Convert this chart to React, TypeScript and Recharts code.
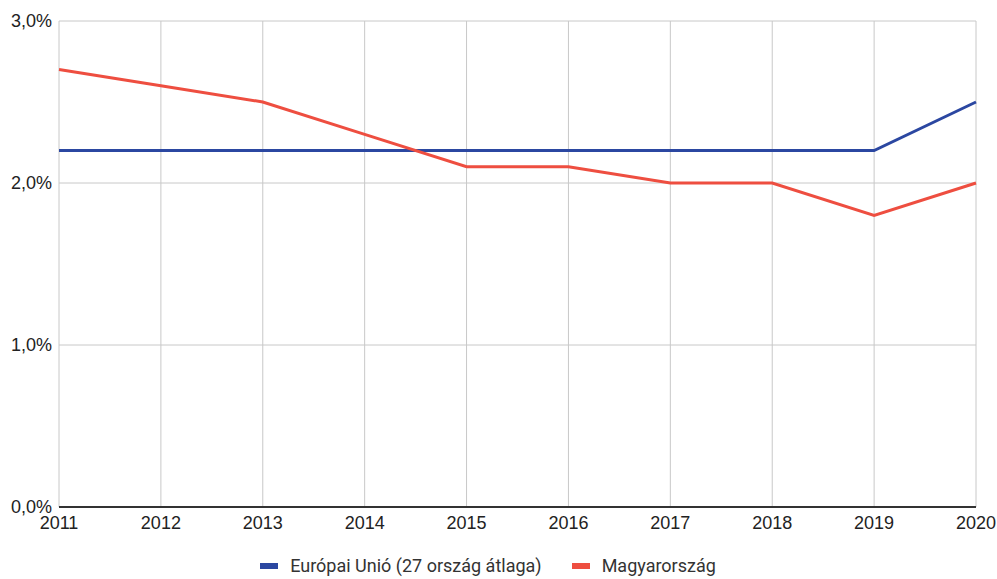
import React from "react";
import { LineChart, XAxis, YAxis, CartesianGrid, Line, Legend } from "recharts";

const years = ["2011", "2012", "2013", "2014", "2015", "2016", "2017", "2018", "2019", "2020"];
const euValues = [2.2, 2.2, 2.2, 2.2, 2.2, 2.2, 2.2, 2.2, 2.2, 2.5];
const huValues = [2.7, 2.6, 2.5, 2.3, 2.1, 2.1, 2.0, 2.0, 1.8, 2.0];
const yTicks = [0, 1, 2, 3];

const EU_NAME = "Európai Unió (27 ország átlaga)";
const HU_NAME = "Magyarország";
const EU_COLOR = "#2b47a1";
const HU_COLOR = "#ee4e40";

const data = years.map((y, i) => ({ year: y, eu: euValues[i], hu: huValues[i] }));

const fmt = (v: number) => v.toFixed(1).replace(".", ",") + "%";

function LegendBox() {
    const items = [
        { name: EU_NAME, color: EU_COLOR },
        { name: HU_NAME, color: HU_COLOR },
    ];
    return (
        <div style={{ display: "flex", justifyContent: "center", gap: 30, fontFamily: "Roboto", fontSize: 18, color: "#333", lineHeight: "20px", paddingTop: 3 }}>
            {items.map((it) => (
                <div key={it.name} style={{ display: "flex", alignItems: "center" }}>
                    <span style={{ display: "inline-block", width: 18, height: 6, background: it.color, marginRight: 12 }} />
                    <span>{it.name}</span>
                </div>
            ))}
        </div>
    );
}

function App() {
    return (
        <div style={{ position: "absolute", left: 0, top: 0 }}>
            <LineChart width={997} height={579} data={data} margin={{ top: 21, right: 21, left: 0, bottom: 2 }}>
                <CartesianGrid stroke="#c8c8c8" vertical={true} horizontal={true} />
                <XAxis
                    dataKey="year"
                    padding={{ left: 0, right: 0 }}
                    tickLine={false}
                    tickSize={0}
                    tickMargin={9}
                    axisLine={{ stroke: "#333", strokeWidth: 2 }}
                    tick={{ fill: "#222", fontFamily: "Liberation Sans", fontSize: 18 }}
                    height={46}
                    interval={0}
                />
                <YAxis
                    domain={[0, 3]}
                    ticks={yTicks}
                    tickFormatter={fmt}
                    width={59}
                    tickLine={false}
                    axisLine={false}
                    tickSize={0}
                    tickMargin={7}
                    tick={{ fill: "#222", fontFamily: "Liberation Sans", fontSize: 18 }}
                />
                <Legend verticalAlign="bottom" height={24} content={() => <LegendBox />} />
                <Line type="linear" dataKey="eu" name={EU_NAME} stroke={EU_COLOR} strokeWidth={3} dot={false} isAnimationActive={false} />
                <Line type="linear" dataKey="hu" name={HU_NAME} stroke={HU_COLOR} strokeWidth={3} dot={false} isAnimationActive={false} />
            </LineChart>
        </div>
    );
}

export default App;
